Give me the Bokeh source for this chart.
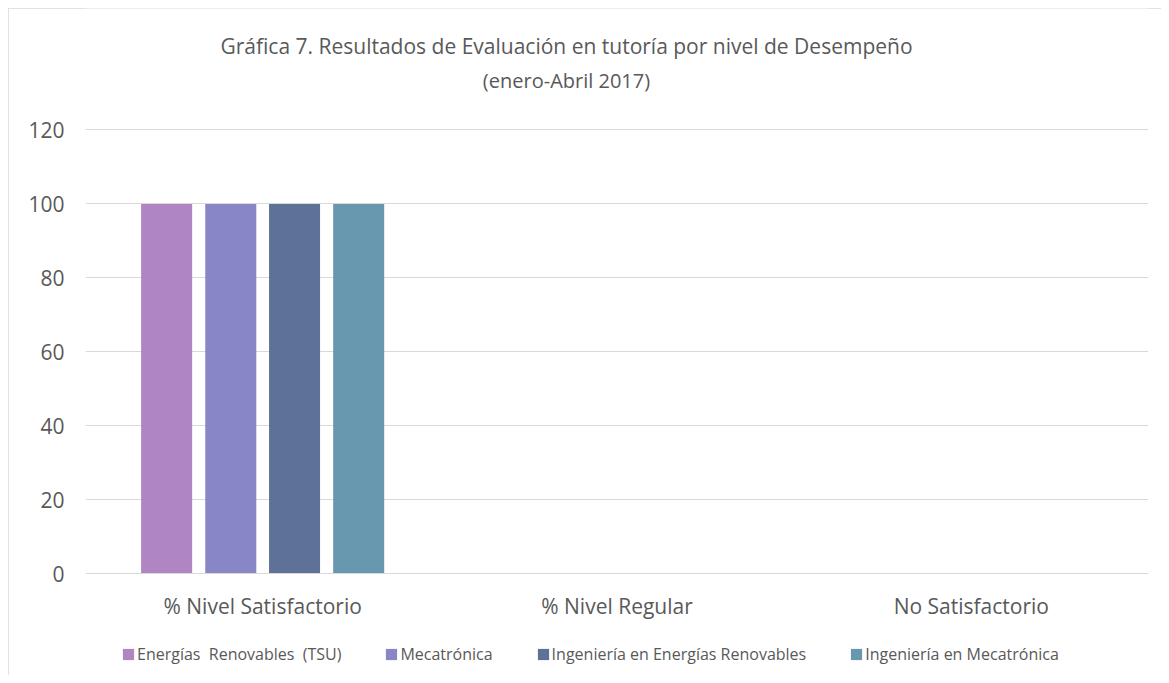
from bokeh.plotting import figure
from bokeh.layouts import column
from bokeh.models import (FactorRange, Range1d, FixedTicker, ColumnDataSource,
                          Legend, LegendItem, Label, InlineStyleSheet)
from bokeh.transform import dodge
from bokeh.embed import file_html
from bokeh.resources import INLINE

categories = ["% Nivel Satisfactorio", "% Nivel Regular", "No Satisfactorio"]
series_names = ["Energías  Renovables  (TSU)", "Mecatrónica",
                "Ingeniería en Energías Renovables", "Ingeniería en Mecatrónica"]
energias_tsu = [100, 0, 0]
mecatronica = [100, 0, 0]
ing_energias = [100, 0, 0]
ing_mecatronica = [100, 0, 0]
y_ticks = [0, 20, 40, 60, 80, 100, 120]
title_line1 = "Gráfica 7. Resultados de Evaluación en tutoría por nivel de Desempeño"
title_line2 = "(enero-Abril 2017)"

colors = ["#AF85C4", "#8886C6", "#5E7298", "#6898B0"]
FONT = "Open Sans"
TXT = "#595959"
cols = ["s0", "s1", "s2", "s3"]
W = 1153

source = ColumnDataSource(dict(cat=categories, s0=energias_tsu, s1=mecatronica,
                               s2=ing_energias, s3=ing_mecatronica))

# ---- title strip (frame aligned with the chart frame below) ----
top = figure(width=W, height=108, output_backend="svg", toolbar_location=None,
             x_axis_type=None, y_axis_type=None, title_location=None,
             min_border_left=0, min_border_right=0, min_border_top=0, min_border_bottom=0,
             x_range=Range1d(85, 1148), y_range=Range1d(116, 8))
top.styles = {"margin-left": "8px", "margin-top": "8px"}
top.stylesheets.append(InlineStyleSheet(css=":host { box-shadow: inset 1px 1px 0 #d9d9d9; }"))
top.outline_line_color = None
top.xgrid.grid_line_color = None
top.ygrid.grid_line_color = None
for txt, yy, fs in [(title_line1, 45, "21px"), (title_line2, 80, "20px")]:
    top.add_layout(Label(x=566, y=yy, text=txt, text_align="center", text_baseline="middle",
                         text_font=FONT, text_font_size=fs, text_color=TXT))

# ---- chart ----
p = figure(width=W, height=507, x_range=FactorRange(*categories),
           y_range=Range1d(0, 120.4), output_backend="svg", toolbar_location=None,
           title_location=None,
           min_border_left=77, min_border_right=13, min_border_top=12, min_border_bottom=50)
p.styles = {"margin-left": "8px"}
p.stylesheets.append(InlineStyleSheet(css=":host { box-shadow: inset 1px 0 0 #d9d9d9; }"))
p.outline_line_color = None
p.background_fill_color = "white"
p.border_fill_color = "white"

offsets = [-0.271, -0.090, 0.090, 0.271]
for i, (col, off) in enumerate(zip(cols, offsets)):
    p.vbar(x=dodge("cat", off, range=p.x_range), top=col, width=0.144,
           source=source, color=colors[i], line_color=None)

p.xgrid.grid_line_color = None
p.ygrid.grid_line_color = "#d9d9d9"
p.ygrid.grid_line_width = 1
p.yaxis.ticker = FixedTicker(ticks=y_ticks)
for ax in (p.xaxis, p.yaxis):
    ax.axis_line_color = None
    ax.major_tick_line_color = None
    ax.minor_tick_line_color = None
    ax.major_label_text_color = TXT
    ax.major_label_text_font = FONT
    ax.major_label_text_font_size = "21px"
p.xaxis.axis_line_color = "#d9d9d9"
p.yaxis.major_label_standoff = 15
p.xaxis.major_label_standoff = 12

# ---- legend strip (its bars lie outside its y range, only the legend shows) ----
leg = figure(width=W, height=52, output_backend="svg", toolbar_location=None,
             x_axis_type=None, y_axis_type=None, title_location=None,
             min_border_left=0, min_border_right=0, min_border_top=0, min_border_bottom=0,
             x_range=FactorRange(*categories), y_range=Range1d(500, 501))
leg.styles = {"margin-left": "8px"}
leg.stylesheets.append(InlineStyleSheet(css=":host { box-shadow: inset 1px 0 0 #d9d9d9; }"))
leg.outline_line_color = None
leg.xgrid.grid_line_color = None
leg.ygrid.grid_line_color = None
leg_renderers = [leg.vbar(x="cat", top=col, width=0.1, source=source, color=c, line_color=None)
                 for col, c in zip(cols, colors)]
legend = Legend(items=[LegendItem(label=n, renderers=[r]) for n, r in zip(series_names, leg_renderers)],
                orientation="horizontal", location=(36, 10),
                label_text_font=FONT, label_text_font_size="16px", label_text_color=TXT,
                glyph_width=14, glyph_height=14, spacing=43, label_standoff=2,
                border_line_color=None, background_fill_alpha=0, padding=0, margin=0)
leg.add_layout(legend)

layout = column(top, p, leg, spacing=0)
open("out.html", "w").write(file_html(layout, INLINE))
